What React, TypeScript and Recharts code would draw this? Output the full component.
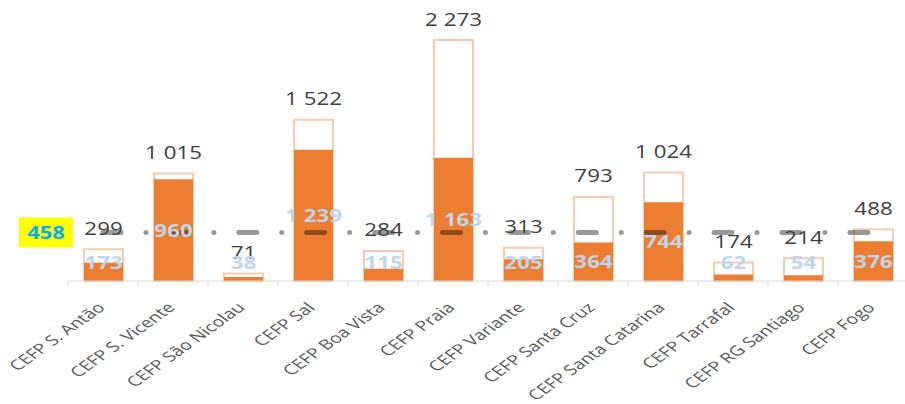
import React from 'react';
import { ComposedChart, Bar, Line, XAxis, YAxis, LabelList } from 'recharts';

const categories = [
  'CEFP S. Antão', 'CEFP S. Vicente', 'CEFP São Nicolau', 'CEFP Sal', 'CEFP Boa Vista',
  'CEFP Praia', 'CEFP Variante', 'CEFP Santa Cruz', 'CEFP Santa Catarina', 'CEFP Tarrafal',
  'CEFP RG Santiago', 'CEFP Fogo',
];
const totals = [299, 1015, 71, 1522, 284, 2273, 313, 793, 1024, 174, 214, 488];
const subset = [173, 960, 38, 1239, 115, 1163, 205, 364, 744, 62, 54, 376];
const average = [458, 458, 458, 458, 458, 458, 458, 458, 458, 458, 458, 458];

const data = categories.map((name, i) => ({
  name,
  total: totals[i],
  subset: subset[i],
  avg: average[i],
}));

const FONT = '"Open Sans", sans-serif';
const fmt = (v: number) => String(v).replace(/\B(?=(\d{3})+(?!\d))/g, ' ');

const TotalLabel = (props: any) => {
  const { x, y, width, value } = props;
  const cx = Number(x) + Number(width) / 2;
  return (
    <text
      transform={`translate(${cx},${Number(y) - 14.5}) scale(1.24,1)`}
      textAnchor="middle"
      fontFamily={FONT}
      fontSize={18}
      fill="#404040"
    >
      {fmt(Number(value))}
    </text>
  );
};

const SubsetLabel = (props: any) => {
  const { x, y, width, height, value } = props;
  const cx = Number(x) + Number(width) / 2;
  const bottom = Number(y) + Number(height);
  const mid = Number(y) + Number(height) / 2;
  const center = Math.min(mid, bottom - 19);
  return (
    <text
      transform={`translate(${cx},${center + 6.5}) scale(1.24,1)`}
      textAnchor="middle"
      fontFamily={FONT}
      fontSize={18}
      fontWeight={700}
      fill="#BDD7EE"
    >
      {fmt(Number(value))}
    </text>
  );
};

const AvgLabel = (props: any) => {
  const { x, y, value, index } = props;
  if (index !== 0) return null;
  const px = Number(x);
  const py = Number(y);
  return (
    <g>
      <rect x={px - 84} y={py - 15} width={54} height={30} fill="#FFFF00" />
      <text
        transform={`translate(${px - 57},${py + 7}) scale(1.22,1)`}
        textAnchor="middle"
        fontFamily={FONT}
        fontSize={18}
        fontWeight={700}
        fill="#00B0F0"
      >
        {value}
      </text>
    </g>
  );
};

const Tick = (props: any) => {
  const { x, y, payload, index } = props;
  const half = 35;
  return (
    <g>
      <line x1={x - half} x2={x - half} y1={y} y2={y + 5} stroke="#d9d9d9" />
      {index === categories.length - 1 && (
        <line x1={x + half} x2={x + half} y1={y} y2={y + 5} stroke="#d9d9d9" />
      )}
      <text
        transform={`translate(${x + 3},${y + 27.5}) scale(1.4,1) rotate(-45)`}
        textAnchor="end"
        fontFamily={FONT}
        fontSize={14}
        fill="#595959"
      >
        {payload.value}
      </text>
    </g>
  );
};

export default function App() {
  return (
    <div
      style={{
        position: 'absolute',
        left: 0,
        top: 0,
        width: 905,
        height: 404,
        overflow: 'hidden',
        background: '#fff',
      }}
    >
      <ComposedChart
        width={908}
        height={404}
        data={data}
        margin={{ top: 16, right: 0, left: 68, bottom: 23 }}
      >
        <XAxis
          xAxisId="a"
          dataKey="name"
          interval={0}
          height={100}
          tickSize={0}
          tickMargin={0}
          tickLine={false}
          axisLine={{ stroke: '#d9d9d9' }}
          tick={<Tick />}
        />
        <XAxis xAxisId="b" dataKey="name" hide />
        <YAxis hide domain={[0, 2500]} />
        <Bar
          xAxisId="a"
          dataKey="total"
          barSize={39}
          fill="#ffffff"
          stroke="#F8CBAD"
          strokeWidth={2}
          isAnimationActive={false}
        >
          <LabelList dataKey="total" content={<TotalLabel />} />
        </Bar>
        <Bar
          xAxisId="b"
          dataKey="subset"
          barSize={39}
          fill="#ED7D31"
          isAnimationActive={false}
        >
          <LabelList dataKey="subset" content={<SubsetLabel />} />
        </Bar>
        <Line
          xAxisId="a"
          dataKey="avg"
          stroke="#000000"
          strokeOpacity={0.4}
          strokeWidth={5}
          strokeLinecap="round"
          strokeDasharray="18 24.9 0.1 24.9"
          dot={false}
          activeDot={false}
          isAnimationActive={false}
        >
          <LabelList dataKey="avg" content={<AvgLabel />} />
        </Line>
      </ComposedChart>
    </div>
  );
}
